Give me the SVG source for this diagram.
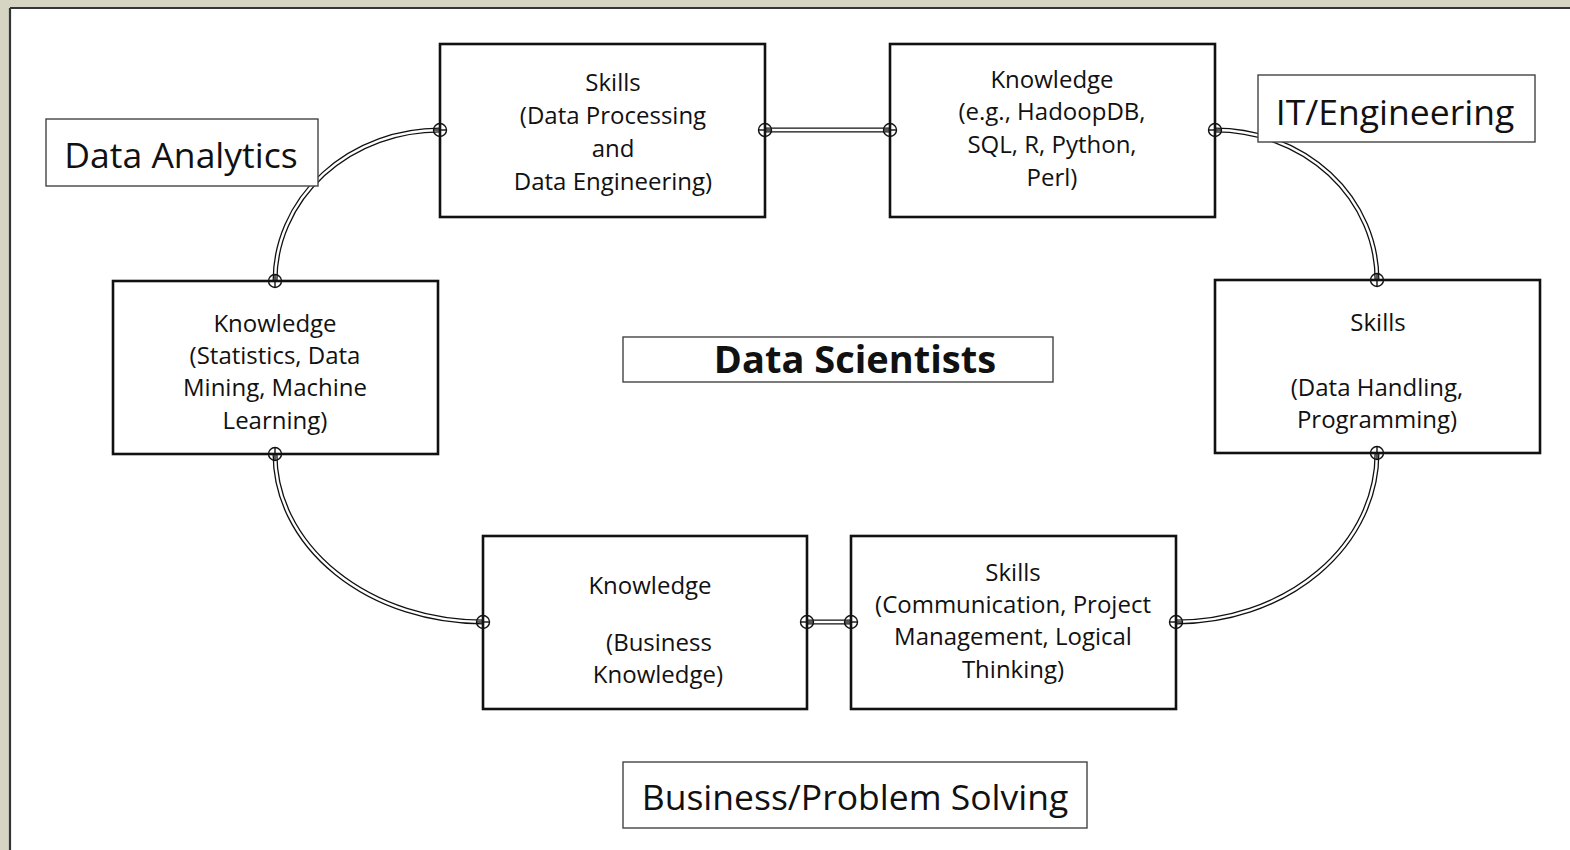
<svg xmlns="http://www.w3.org/2000/svg" width="1570" height="850" viewBox="0 0 1570 850">
<style>
.node{fill:#fff;stroke:#111;stroke-width:2.6}
.lab{fill:#fff;stroke:#444;stroke-width:1.4}
.t{font-family:"Open Sans","Noto Sans","Liberation Sans",sans-serif;font-size:24px;fill:#111;text-anchor:middle}
.big{font-family:"Open Sans","Noto Sans","Liberation Sans",sans-serif;font-size:35.5px;fill:#111;text-anchor:middle}
.bold{font-weight:bold;font-size:38px}
.co{fill:none;stroke:#111;stroke-width:5}
.ci{fill:none;stroke:#fff;stroke-width:2.4}
.j{fill:none;stroke:#111;stroke-width:1.4}
</style>
<defs>
<g id="jh"><circle class="j" r="6.5"/><line class="j" x1="-6.5" y1="0" x2="6.5" y2="0"/></g>
<g id="jv"><circle class="j" r="6.5"/><line class="j" x1="0" y1="-6.5" x2="0" y2="6.5"/></g>
</defs>
<rect x="0" y="0" width="1570" height="850" fill="#d6d4c2"/>
<rect x="10" y="8" width="1560" height="842" fill="#fff"/>
<line x1="10" y1="8" x2="1570" y2="8" stroke="#34343f" stroke-width="2.2"/>
<line x1="10" y1="8" x2="10" y2="850" stroke="#34343f" stroke-width="2.2"/>

<g id="connectors">
<g class="outer">
<path class="co" d="M440,130 A165,151 0 0 0 275,281"/>
<path class="co" d="M765,130 L890,130"/>
<path class="co" d="M1215,130 A162,150 0 0 1 1377,280"/>
<path class="co" d="M1377,453 A201,169 0 0 1 1176,622"/>
<path class="co" d="M851,622 L807,622"/>
<path class="co" d="M275,454 A208,168 0 0 0 483,622"/>
</g>
<g class="inner">
<path class="ci" d="M440,130 A165,151 0 0 0 275,281"/>
<path class="ci" d="M765,130 L890,130"/>
<path class="ci" d="M1215,130 A162,150 0 0 1 1377,280"/>
<path class="ci" d="M1377,453 A201,169 0 0 1 1176,622"/>
<path class="ci" d="M851,622 L807,622"/>
<path class="ci" d="M275,454 A208,168 0 0 0 483,622"/>
</g>
</g>

<g id="label-data-analytics">
<rect class="lab" x="46" y="119" width="272" height="67"/>
<text class="big" x="181" y="168">Data Analytics</text>
</g>
<g id="label-it-engineering">
<rect class="lab" x="1258" y="75" width="277" height="67"/>
<text class="big" x="1395" y="125">IT/Engineering</text>
</g>
<g id="label-data-scientists">
<rect class="lab" x="623" y="337" width="430" height="45"/>
<text class="big bold" x="855" y="373">Data Scientists</text>
</g>
<g id="label-business">
<rect class="lab" x="623" y="762" width="464" height="66"/>
<text class="big" x="855" y="810">Business/Problem Solving</text>
</g>

<g id="skills-processing">
<rect class="node" x="440" y="44" width="325" height="173"/>
<text class="t" x="613" y="91">Skills</text>
<text class="t" x="613" y="124">(Data Processing</text>
<text class="t" x="613" y="157">and</text>
<text class="t" x="613" y="190">Data Engineering)</text>
</g>
<g id="knowledge-tools">
<rect class="node" x="890" y="44" width="325" height="173"/>
<text class="t" x="1052" y="88">Knowledge</text>
<text class="t" x="1052" y="120">(e.g., HadoopDB,</text>
<text class="t" x="1052" y="153">SQL, R, Python,</text>
<text class="t" x="1052" y="186">Perl)</text>
</g>
<g id="knowledge-statistics">
<rect class="node" x="113" y="281" width="325" height="173"/>
<text class="t" x="275" y="332">Knowledge</text>
<text class="t" x="275" y="364">(Statistics, Data</text>
<text class="t" x="275" y="396">Mining, Machine</text>
<text class="t" x="275" y="429">Learning)</text>
</g>
<g id="skills-handling">
<rect class="node" x="1215" y="280" width="325" height="173"/>
<text class="t" x="1378" y="331">Skills</text>
<text class="t" x="1377" y="396">(Data Handling,</text>
<text class="t" x="1377" y="428">Programming)</text>
</g>
<g id="knowledge-business">
<rect class="node" x="483" y="536" width="324" height="173"/>
<text class="t" x="650" y="594">Knowledge</text>
<text class="t" x="659" y="651">(Business</text>
<text class="t" x="658" y="683">Knowledge)</text>
</g>
<g id="skills-communication">
<rect class="node" x="851" y="536" width="325" height="173"/>
<text class="t" x="1013" y="581">Skills</text>
<text class="t" x="1013" y="613">(Communication, Project</text>
<text class="t" x="1013" y="645">Management, Logical</text>
<text class="t" x="1013" y="678">Thinking)</text>
</g>

<g id="joints">
<use href="#jh" x="440" y="130"/>
<use href="#jh" x="765" y="130"/>
<use href="#jh" x="890" y="130"/>
<use href="#jh" x="1215" y="130"/>
<use href="#jv" x="275" y="281"/>
<use href="#jv" x="275" y="454"/>
<use href="#jv" x="1377" y="280"/>
<use href="#jv" x="1377" y="453"/>
<use href="#jh" x="1176" y="622"/>
<use href="#jh" x="851" y="622"/>
<use href="#jh" x="807" y="622"/>
<use href="#jh" x="483" y="622"/>
</g>
</svg>
